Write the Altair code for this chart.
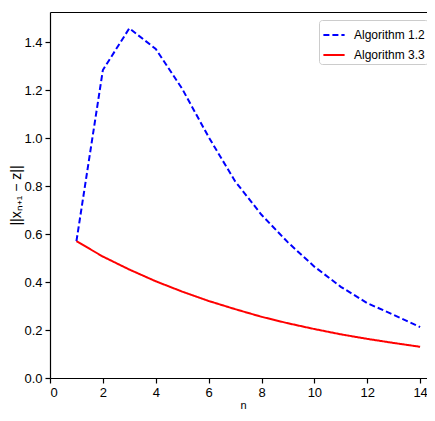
import altair as alt
import pandas as pd

n_vals = list(range(1, 15))
alg12 = [0.57, 1.283, 1.457, 1.371, 1.205, 1.004, 0.82, 0.68, 0.565, 0.464, 0.38, 0.312, 0.263, 0.212]
alg33 = [0.57, 0.506, 0.452, 0.403, 0.36, 0.321, 0.287, 0.255, 0.228, 0.204, 0.182, 0.163, 0.146, 0.13]
series_names = ["Algorithm 1.2", "Algorithm 3.3"]
x_ticks = [0, 2, 4, 6, 8, 10, 12, 14]
y_ticks = [0.0, 0.2, 0.4, 0.6, 0.8, 1.0, 1.2, 1.4]

rows = []
for name, vals in zip(series_names, [alg12, alg33]):
    for n, v in zip(n_vals, vals):
        rows.append({"n": n, "value": v, "series": name})
df = pd.DataFrame(rows)

FONT = "Liberation Sans"

legend_kw = dict(title=None, orient="none", legendX=269, legendY=8,
                 symbolType="stroke", symbolSize=450, symbolStrokeWidth=2,
                 labelFontSize=12, labelFont=FONT, labelColor="black", labelOffset=8,
                 strokeColor="#cccccc", fillColor="white", cornerRadius=3,
                 padding=3, rowPadding=2)

x_scale = alt.Scale(domain=[0, 14.26], nice=False, zero=False)
y_enc = alt.Y("value:Q", scale=alt.Scale(domain=[0, 1.525], nice=False),
              axis=alt.Axis(values=y_ticks, format=".1f", title="||xₙ₊₁ − z||",
                            titleFontSize=14, titleFontWeight="normal", titlePadding=0))

lines = alt.Chart(df).mark_line(strokeWidth=2, clip=True).encode(
    x=alt.X("n:Q", scale=x_scale,
            axis=alt.Axis(values=x_ticks, format="d", title="n", titleFontSize=11,
                          titleFontWeight="normal", titlePadding=0, titleX=193)),
    y=y_enc,
    color=alt.Color("series:N",
                    scale=alt.Scale(domain=series_names, range=["#0000ff", "#ff0000"]),
                    legend=alt.Legend(**legend_kw)),
    strokeDash=alt.StrokeDash("series:N",
                              scale=alt.Scale(domain=series_names, range=[[6, 3], [1, 0]]),
                              legend=alt.Legend(**legend_kw)),
)

top = alt.Chart(df).mark_point(opacity=0).encode(
    x=alt.X("n:Q", scale=x_scale,
            axis=alt.Axis(orient="top", labels=False, ticks=False, title=None, domain=True)),
    y=y_enc,
)

chart = alt.layer(lines, top).resolve_axis(x="independent").properties(
    width=377, height=366,
    autosize=alt.AutoSizeParams(type="none"),
    padding={"left": 42, "top": 4, "right": 0, "bottom": 33},
).configure_view(stroke=None).configure_axis(
    grid=False, domainColor="black", domainWidth=1.2, tickColor="black", tickWidth=1.2,
    tickSize=5, labelColor="black", labelFontSize=13, labelFont=FONT, titleFont=FONT,
    titleColor="black", labelPadding=3,
)

chart.save("out.html", embed_options={"renderer": "svg", "actions": False})
